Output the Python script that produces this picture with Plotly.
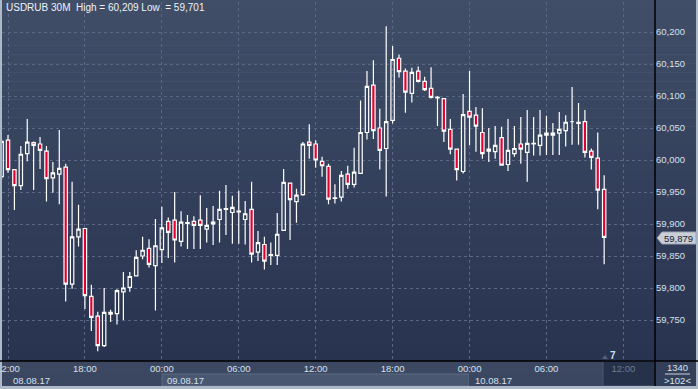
import pandas as pd
import plotly.graph_objects as go

# ---------------- data ----------------
start_time = "2017-08-08 11:30"
opens = [59.974, 60.031, 59.985, 59.960, 60.010, 60.027, 60.025, 60.014, 59.972, 59.978,
         59.989, 59.806, 59.880, 59.893, 59.787, 59.756, 59.710, 59.762, 59.760, 59.794,
         59.801, 59.819, 59.850, 59.862, 59.835, 59.860, 59.904, 59.906, 59.873, 59.901,
         59.904, 59.906, 59.892, 59.900, 59.907, 59.923, 59.918, 59.919, 59.907, 59.923,
         59.856, 59.868, 59.851, 59.851, 59.890, 59.964, 59.935, 59.946, 60.028, 60.025,
         59.998, 59.990, 59.940, 59.942, 59.978, 59.962, 59.979, 60.043, 60.117, 60.050,
         60.018, 60.062, 60.159, 60.139, 60.104, 60.139, 60.123, 60.112, 60.097, 60.096,
         60.048, 60.017, 59.982, 60.076, 60.070, 60.043, 60.017, 60.013, 60.035, 59.993,
         60.010, 60.025, 60.012, 60.025, 60.023, 60.039, 60.042, 60.042, 60.046, 60.060,
         60.059, 60.060, 60.014, 60.003, 59.954]
highs = [60.032, 60.039, 59.986, 60.022, 60.064, 60.029, 60.036, 60.022, 59.997, 60.047,
         59.994, 59.966, 59.930, 59.894, 59.805, 59.763, 59.800, 59.766, 59.798, 59.825,
         59.825, 59.859, 59.880, 59.876, 59.908, 59.927, 59.910, 59.950, 59.920, 59.914,
         59.912, 59.945, 59.925, 59.928, 59.952, 59.961, 59.944, 59.952, 59.936, 59.966,
         59.889, 59.880, 59.871, 59.917, 59.986, 59.964, 59.955, 60.028, 60.056, 60.031,
         60.005, 59.994, 59.962, 59.983, 59.991, 60.019, 60.093, 60.139, 60.156, 60.080,
         60.209, 60.178, 60.165, 60.143, 60.144, 60.146, 60.130, 60.145, 60.100, 60.097,
         60.064, 60.018, 60.103, 60.139, 60.083, 60.081, 60.050, 60.053, 60.052, 60.064,
         60.053, 60.067, 60.078, 60.067, 60.078, 60.069, 60.058, 60.075, 60.070, 60.114,
         60.089, 60.078, 60.018, 60.043, 59.976]
lows = [59.970, 59.980, 59.922, 59.953, 59.998, 59.953, 59.986, 59.935, 59.949, 59.931,
        59.779, 59.799, 59.865, 59.767, 59.733, 59.701, 59.708, 59.747, 59.743, 59.750,
        59.794, 59.819, 59.845, 59.832, 59.765, 59.839, 59.847, 59.840, 59.865, 59.861,
        59.861, 59.861, 59.871, 59.867, 59.871, 59.883, 59.869, 59.869, 59.868, 59.840,
        59.842, 59.829, 59.836, 59.836, 59.890, 59.875, 59.902, 59.944, 60.002, 59.988,
        59.974, 59.931, 59.932, 59.935, 59.955, 59.957, 59.979, 60.032, 60.033, 59.985,
        59.943, 60.057, 60.129, 60.074, 60.090, 60.121, 60.108, 60.096, 60.053, 60.028,
        60.009, 59.968, 59.979, 60.023, 60.013, 60.002, 59.997, 60.002, 59.992, 59.983,
        60.005, 59.994, 59.966, 60.007, 60.007, 60.008, 60.008, 60.008, 60.021, 60.024,
        60.024, 60.004, 59.985, 59.923, 59.837]
closes = [60.029, 59.985, 59.960, 60.009, 60.028, 60.023, 60.015, 59.971, 59.980, 59.987,
          59.806, 59.880, 59.892, 59.788, 59.754, 59.710, 59.762, 59.759, 59.796, 59.800,
          59.818, 59.848, 59.859, 59.837, 59.866, 59.894, 59.887, 59.875, 59.903, 59.902,
          59.898, 59.898, 59.898, 59.903, 59.923, 59.924, 59.926, 59.920, 59.916, 59.853,
          59.871, 59.842, 59.852, 59.884, 59.965, 59.938, 59.945, 60.025, 60.023, 60.000,
          59.991, 59.939, 59.941, 59.976, 59.962, 59.981, 60.043, 60.115, 60.046, 60.015,
          60.060, 60.157, 60.138, 60.106, 60.137, 60.123, 60.110, 60.098, 60.098, 60.045,
          60.017, 59.985, 60.071, 60.067, 60.053, 60.010, 60.014, 60.023, 59.992, 60.015,
          60.018, 60.017, 60.026, 60.026, 60.039, 60.042, 60.039, 60.048, 60.059, 60.060,
          60.057, 60.012, 60.004, 59.953, 59.879]

y_ticks = [59.75, 59.80, 59.85, 59.90, 59.95, 60.00, 60.05, 60.10, 60.15, 60.20]
y_tick_labels = ["59,750", "59,800", "59,850", "59,900", "59,950",
                 "60,000", "60,050", "60,100", "60,150", "60,200"]
x_tick_times = ["2017-08-08 12:00", "2017-08-08 18:00", "2017-08-09 00:00",
                "2017-08-09 06:00", "2017-08-09 12:00", "2017-08-09 18:00",
                "2017-08-10 00:00", "2017-08-10 06:00", "2017-08-10 12:00"]
x_tick_labels = ["12:00", "18:00", "00:00", "06:00", "12:00", "18:00",
                 "00:00", "06:00", "<span style='color:#6f7b91'>12:00</span>"]
date_labels = ["08.08.17", "09.08.17", "10.08.17"]
date_label_times = ["2017-08-08 12:00", "2017-08-09 00:00", "2017-08-10 00:00"]
title_text = "USDRUB 30M  High = 60,209 Low  = 59,701"
last_price_text = "59,879"
corner_top, corner_bottom = "1340", ">102<"
counter_text = "7"

times = pd.date_range(start_time, periods=len(opens), freq="30min")

# ---------------- layout geometry ----------------
W, H = 698, 389
ML, MR, MT, MB = 2, 43, 2, 28
PW, PH = W - ML - MR, H - MT - MB


def X(px):
    return (px - ML) / PW


def Y(py):
    return (H - MB - py) / PH


FONT = "Liberation Sans"
TXT = "#d6e0ee"

shapes = []


def rect(x0, y0, x1, y1, color, line=None, layer="below"):
    d = dict(type="rect", xref="paper", yref="paper", x0=X(x0), x1=X(x1),
             y0=Y(y0), y1=Y(y1), fillcolor=color, layer=layer,
             line=dict(width=0) if line is None else line)
    shapes.append(d)


def lerp(c0, c1, t):
    return "rgb(%d,%d,%d)" % tuple(round(a + (b - a) * t) for a, b in zip(c0, c1))


top_c, bot_c = (64, 78, 104), (40, 51, 79)
n_bands = 40
for i in range(n_bands):
    y0 = 361 * i / n_bands
    y1 = 361 * (i + 1) / n_bands + 0.5
    rect(0, y0, W, y1, lerp(top_c, bot_c, (i + 0.5) / n_bands))

# bottom axis strip
rect(0, 361, 655, 374, "#3c4862")
rect(0, 374, 162, 386, "#3b4760")
rect(162, 374, 469, 386, "#4a5771", line=dict(color="#5c6a84", width=1))
rect(469, 374, 603, 386, "#3b4760")
rect(603, 361, 655, 386, "#26314a", line=dict(color="#4b5670", width=1))
# corner box
rect(655, 361, W, 386, "#34405a")
# outer frame
rect(0, 386, W, H, "#aeb9c7")
rect(0, 0, 2, H, "#aeb9c7")
rect(W - 2, 0, W, H, "#aeb9c7")

# separator lines
shapes.append(dict(type="line", xref="paper", yref="paper", x0=X(655), x1=X(655),
                   y0=Y(0), y1=Y(386), line=dict(color="#000000", width=1.5), layer="above"))
shapes.append(dict(type="line", xref="paper", yref="paper", x0=X(0), x1=X(698),
                   y0=Y(361), y1=Y(361), line=dict(color="#000000", width=1.5), layer="above"))
shapes.append(dict(type="line", xref="paper", yref="paper", x0=X(665), x1=X(690),
                   y0=Y(374), y1=Y(374), line=dict(color="#c8d2de", width=1), layer="above"))
# last price label box with arrow
px0, px1, py0, py1 = 657, 696, 232, 244
path = "M %f %f L %f %f L %f %f L %f %f L %f %f Z" % (
    X(px0), Y((py0 + py1) / 2), X(px0 + 5), Y(py0), X(px1), Y(py0),
    X(px1), Y(py1), X(px0 + 5), Y(py1))
shapes.append(dict(type="path", xref="paper", yref="paper", path=path,
                   fillcolor="#c9ced8", line=dict(color="#9aa3b2", width=1), layer="above"))
# small counter triangle
tri = "M %f %f L %f %f L %f %f Z" % (X(602), Y(359), X(608), Y(359), X(605), Y(355))
shapes.append(dict(type="path", xref="paper", yref="paper", path=tri,
                   fillcolor="#56607a", line=dict(width=0), layer="above"))

fig = go.Figure()
fig.add_trace(go.Candlestick(
    x=times, open=opens, high=highs, low=lows, close=closes,
    increasing=dict(line=dict(color="#ffffff", width=1.2), fillcolor="rgba(0,0,0,0)"),
    decreasing=dict(line=dict(color="#ffffff", width=1.2), fillcolor="#e3002f"),
    whiskerwidth=0, showlegend=False, hoverinfo="skip",
))

annotations = [
    dict(text=title_text, xref="paper", yref="paper", x=X(4), y=Y(8),
         xanchor="left", yanchor="middle", showarrow=False,
         font=dict(family=FONT, size=10, color="#eef3fa")),
    dict(text=last_price_text, xref="paper", yref="paper", x=X(678), y=Y(238),
         xanchor="center", yanchor="middle", showarrow=False,
         font=dict(family=FONT, size=9.5, color="#141a26")),
    dict(text=corner_top, xref="paper", yref="paper", x=X(677), y=Y(367),
         xanchor="center", yanchor="middle", showarrow=False,
         font=dict(family=FONT, size=9.5, color=TXT)),
    dict(text=corner_bottom, xref="paper", yref="paper", x=X(677), y=Y(380.5),
         xanchor="center", yanchor="middle", showarrow=False,
         font=dict(family=FONT, size=9.5, color=TXT)),
    dict(text="<b>" + counter_text + "</b>", xref="paper", yref="paper", x=X(613), y=Y(355),
         xanchor="center", yanchor="middle", showarrow=False,
         font=dict(family=FONT, size=10, color="#cfe0f5")),
]
for lab, t in zip(date_labels, date_label_times):
    annotations.append(dict(text=lab, xref="x", yref="paper", x=t, y=Y(380),
                            xanchor="left", yanchor="middle", xshift=3, showarrow=False,
                            font=dict(family=FONT, size=9.5, color=TXT)))

fig.update_layout(
    width=W, height=H,
    margin=dict(l=ML, r=MR, t=MT, b=MB, pad=0, autoexpand=False),
    paper_bgcolor="#aeb9c7", plot_bgcolor="rgba(0,0,0,0)",
    shapes=shapes, annotations=annotations, showlegend=False,
    boxgap=0.25,
    xaxis=dict(
        type="date", rangeslider=dict(visible=False), automargin=False,
        range=["2017-08-08 11:31:54", "2017-08-10 14:28:00"],
        tickvals=x_tick_times, ticktext=x_tick_labels,
        showgrid=True, gridcolor="#5a6885", griddash="dot", gridwidth=1,
        showline=False, zeroline=False, ticks="",
        ticklabeloverflow="allow",
        tickfont=dict(family=FONT, size=9.5, color=TXT),
    ),
    yaxis=dict(
        side="right", automargin=False,
        range=[60.25 - 361 / 640, 60.25 - 2 / 640],
        tickvals=y_ticks, ticktext=y_tick_labels,
        showgrid=True, gridcolor="#5a6885", griddash="dot", gridwidth=1,
        showline=False, zeroline=False, ticks="",
        tickfont=dict(family=FONT, size=9.5, color=TXT),
    ),
)

fig.write_html(
    "out.html",
    config={"displayModeBar": False, "staticPlot": True},
    post_script="document.body.style.margin='0';document.body.style.overflow='hidden';",
)
